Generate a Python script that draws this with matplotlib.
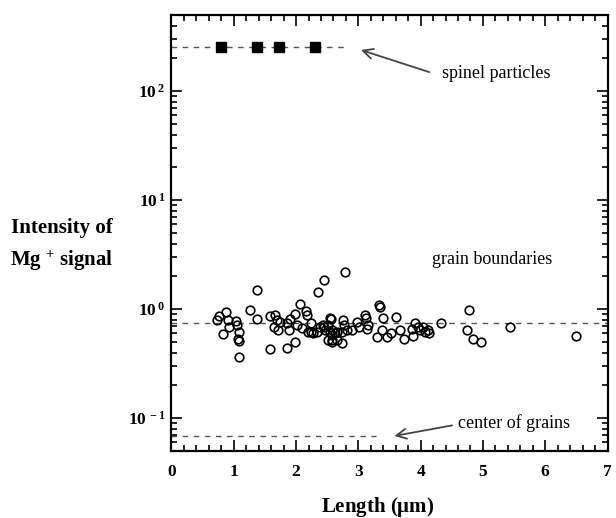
import matplotlib
matplotlib.use("Agg")
import matplotlib.pyplot as plt
from matplotlib.ticker import FixedLocator, FuncFormatter, MultipleLocator

plt.rcParams['font.family'] = ['Liberation Serif', 'DejaVu Serif']
plt.rcParams['mathtext.fontset'] = 'custom'
plt.rcParams['mathtext.rm'] = 'Liberation Serif'
plt.rcParams['mathtext.bf'] = 'Liberation Serif:bold'
plt.rcParams['mathtext.it'] = 'Liberation Serif:italic'

# spinel particles (filled squares)
spinel_x = [0.79, 1.37, 1.72, 2.30]
spinel_y = [255, 255, 255, 255]

# grain boundary measurements (open circles)
gb_x = [0.735, 0.76, 0.875, 0.91, 0.82, 0.93, 1.035, 1.045, 1.08, 1.07, 1.09, 1.08,
        1.37, 1.26, 1.38, 1.575, 1.66, 1.69, 1.74, 1.645, 1.715, 1.575, 1.86,
        1.91, 1.98, 2.06, 2.02, 2.09, 1.99, 2.155, 2.18, 2.235, 2.195, 2.265,
        2.36, 2.45, 2.785, 2.385, 2.44, 2.465, 2.52, 2.555, 2.545, 2.58, 2.57,
        2.65, 2.66, 1.85, 1.885, 2.24, 2.33, 2.545, 2.45, 2.57, 2.625, 2.52,
        2.57, 2.74, 2.76, 2.775, 2.73, 2.81, 2.89, 2.975, 3.01, 3.105, 3.12,
        3.135, 3.16, 3.33, 3.35, 3.40, 3.295, 3.375, 3.455, 3.525, 3.60, 3.67,
        3.73, 3.88, 3.855, 3.91, 3.96, 3.99, 4.04, 4.07, 4.12, 4.14, 4.32,
        4.78, 4.74, 4.835, 4.97, 5.43, 6.49]
gb_y = [0.80, 0.86, 0.95, 0.80, 0.59, 0.69, 0.78, 0.72, 0.62, 0.53, 0.51, 0.365,
        1.49, 0.985, 0.82, 0.86, 0.88, 0.79, 0.76, 0.69, 0.64, 0.43, 0.44,
        0.81, 0.90, 1.12, 0.72, 0.67, 0.505, 0.965, 0.89, 0.745, 0.62, 0.60,
        1.43, 1.86, 2.20, 0.69, 0.718, 0.645, 0.718, 0.81, 0.623, 0.52, 0.58,
        0.623, 0.52, 0.74, 0.64, 0.62, 0.62, 0.83, 0.69, 0.64, 0.60, 0.52,
        0.50, 0.49, 0.79, 0.71, 0.62, 0.64, 0.64, 0.765, 0.69, 0.88, 0.83,
        0.665, 0.71, 1.09, 1.05, 0.83, 0.56, 0.64, 0.56, 0.60, 0.85, 0.64,
        0.53, 0.57, 0.665, 0.75, 0.69, 0.64, 0.69, 0.62, 0.64, 0.61, 0.74,
        0.98, 0.64, 0.53, 0.50, 0.69, 0.57]

# reference levels: value, x end
spinel_level = 255
gb_level = 0.753
center_level = 0.068
spinel_line_end = 2.83
center_line_end = 3.29

fig = plt.figure(figsize=(6.16, 5.18), dpi=100)
ax = fig.add_axes([171.5 / 616, 67 / 518, 436 / 616, 436 / 518])

dash_kw = dict(color='#555555', lw=1.0, dashes=(4, 4))
ax.plot([0, spinel_line_end], [spinel_level, spinel_level], **dash_kw, zorder=1)
ax.plot([0, 7], [gb_level, gb_level], **dash_kw, zorder=1)
ax.plot([0, center_line_end], [center_level, center_level], **dash_kw, zorder=1)

ax.plot(spinel_x, spinel_y, 's', color='black', ms=7.5, zorder=3)
ax.plot(gb_x, gb_y, 'o', mfc='none', mec='black', mew=1.2, ms=6.2, zorder=3)

ax.set_yscale('log')
ax.set_xlim(0, 7)
ax.set_ylim(0.05, 500)

ax.xaxis.set_major_locator(MultipleLocator(1))
ax.xaxis.set_minor_locator(MultipleLocator(0.2))
ax.yaxis.set_major_locator(FixedLocator([0.1, 1, 10, 100]))

exps = {0.1: '-1', 1: '0', 10: '1', 100: '2'}
ax.yaxis.set_major_formatter(FuncFormatter(
    lambda v, p: r'$\mathbf{10^{\;%s}}$' % exps.get(round(v, 3), '')))
ax.xaxis.set_major_formatter(FuncFormatter(lambda v, p: '%d' % v))

ax.tick_params(which='both', direction='in', top=True, right=True, width=1.2)
ax.tick_params(which='major', length=8)
ax.tick_params(which='minor', length=4)
ax.tick_params(axis='x', which='major', pad=9, labelsize=12.5)
ax.tick_params(axis='y', which='major', pad=4, labelsize=12.5)
for lab in ax.get_xticklabels():
    lab.set_fontweight('bold')
for sp in ax.spines.values():
    sp.set_linewidth(1.6)

# annotations
arrow_kw = dict(arrowstyle='->', color='#444444', lw=1.3, mutation_scale=18)
ax.annotate('', xy=(3.0, 243), xytext=(4.18, 147), arrowprops=arrow_kw)
ax.text(4.34, 144, 'spinel particles', fontsize=13, ha='left', va='center')
ax.text(4.19, 2.83, 'grain boundaries', fontsize=13, ha='left', va='center')
ax.annotate('', xy=(3.535, 0.068), xytext=(4.55, 0.0868), arrowprops=arrow_kw)
ax.text(4.60, 0.0905, 'center of grains', fontsize=13, ha='left', va='center')

# axis titles
fig.text(378 / 616, 1 - 507 / 518, r'Length ($\mathbf{\mu}$m)', fontsize=15,
         fontweight='bold', ha='center', va='center')
fig.text(62 / 616, 1 - 228 / 518, 'Intensity of', fontsize=15,
         fontweight='bold', ha='center', va='center')
fig.text(62 / 616, 1 - 261 / 518, r'Mg $^{\mathbf{+}}$ signal', fontsize=15,
         fontweight='bold', ha='center', va='center')

fig.savefig('out.png', dpi=100)
